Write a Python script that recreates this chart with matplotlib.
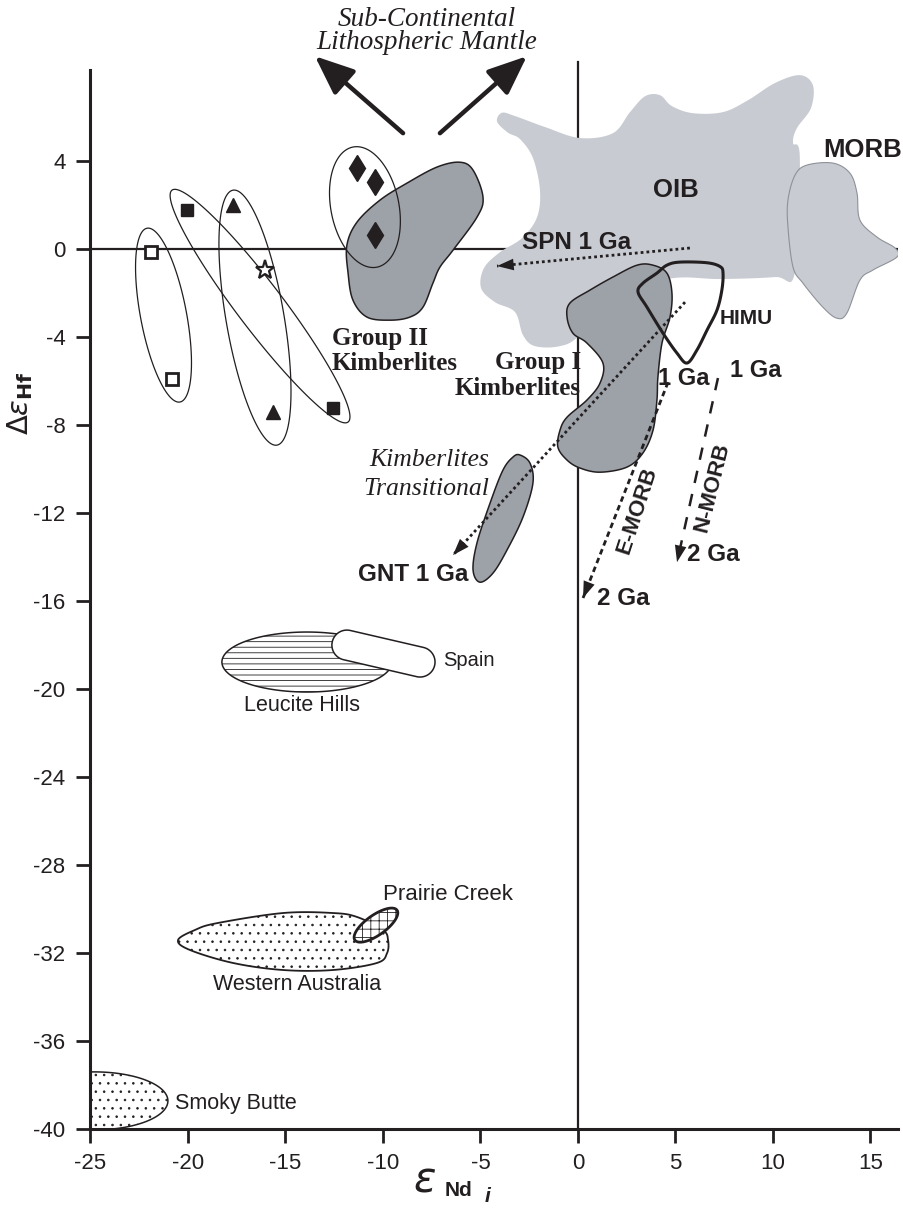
import numpy as np
import matplotlib
matplotlib.use('Agg')
import matplotlib.pyplot as plt
from matplotlib.patches import Polygon

plt.rcParams['font.family'] = ['Liberation Sans', 'DejaVu Sans']
plt.rcParams['hatch.linewidth'] = 0.6
plt.rcParams['mathtext.fontset'] = 'dejavusans'
plt.rcParams['axes.unicode_minus'] = False

INK = '#231f20'
LIGHT = '#c8ccd2'
DARK = '#9da1a8'
SERIF = 'Liberation Serif'

# ---- field outlines (eNd_i, delta eHf) ----
oib_x = [-3.23, -3.9, -4.15, -3.6, -2.97, -2.31, -1.95, -2.10, -2.87, -4.0, -4.82, -4.97, -4.26,
         -3.23, -2.82, -2.21, -0.92, 0.1, 2.15, 4.87, 7.28, 10.1, 11.13, 11.38, 11.03, 11.23,
         11.95, 12.05, 11.38, 10.1, 8.72, 7.44, 5.9, 4.82, 4.2, 3.44, 2.67, 1.79, 0.1, -1.69]
oib_y = [6.05, 6.2, 5.8, 5.3, 5.0, 4.14, 2.68, 1.45, 0.5, -0.14, -0.86, -1.77, -2.41,
         -2.86, -3.91, -4.41, -4.41, -3.91, -1.95, -1.32, -1.36, -1.27, -1.05, 4.14, 4.82, 5.5,
         6.41, 7.45, 7.91, 7.55, 6.77, 6.23, 6.18, 6.5, 7.0, 6.95, 6.23, 5.27, 5.05, 5.55]

morb_x = [11.74, 13.08, 13.95, 14.31, 14.46, 15.33, 16.26, 16.36, 15.13, 14.46, 13.79, 13.28,
          12.56, 11.54, 11.03, 10.77, 10.77, 11.13]
morb_y = [3.82, 3.91, 3.45, 2.55, 1.32, 0.55, 0.05, -0.36, -0.95, -1.41, -2.91, -3.14,
          -2.64, -1.55, -0.82, 1.0, 2.23, 3.36]

g2_x = [-11.85, -11.33, -10.15, -8.77, -7.23, -6.05, -5.38, -4.87, -5.18, -6.41, -7.08, -7.44,
        -7.95, -8.62, -9.64, -10.82, -11.54, -11.79]
g2_y = [0.18, 1.23, 2.23, 3.0, 3.73, 3.95, 3.59, 2.36, 1.45, -0.05, -0.82, -1.55,
        -2.64, -3.09, -3.23, -3.09, -2.32, -1.09]

g1_x = [3.85, 4.56, 4.82, 4.72, 4.31, 4.10, 4.05, 3.85, 3.33, 2.51, 1.13, 0.1, -0.56, -1.03,
        -0.92, -0.56, 0.46, 1.13, 1.28, 0.46, -0.26, -0.56, -0.41, 0.62, 1.79, 3.03]
g1_y = [-0.73, -1.09, -2.0, -3.09, -4.27, -5.82, -6.86, -8.23, -9.27, -9.91, -10.14, -9.95,
        -9.59, -9.0, -8.23, -7.64, -6.86, -6.09, -5.18, -4.27, -3.82, -3.09, -2.45, -1.86,
        -1.27, -0.73]

tr_x = [-2.97, -2.46, -2.31, -2.82, -3.64, -4.36, -5.03, -5.38, -5.18, -4.51, -3.85, -3.33]
tr_y = [-9.36, -9.73, -10.64, -12.18, -13.68, -14.73, -15.14, -14.59, -13.36, -11.55, -10.05, -9.45]

himu_x = [3.08, 3.33, 4.05, 4.56, 5.23, 6.62, 7.3, 7.44, 7.38, 7.13, 6.62, 6.10, 5.59, 5.08, 4.36, 3.54]
himu_y = [-1.95, -1.55, -1.09, -0.73, -0.59, -0.62, -0.8, -1.1, -1.86, -2.77, -3.68, -4.59, -5.18,
          -4.73, -3.82, -2.64]

wa_x = [-20.51, -19.64, -18.51, -15.13, -12.56, -11.33, -10.0, -9.74, -9.79, -10.31, -12.56,
        -15.13, -17.69, -19.9]
wa_y = [-31.41, -30.95, -30.64, -30.18, -30.18, -30.36, -30.95, -31.41, -32.0, -32.45, -32.77,
        -32.77, -32.45, -31.86]

# ellipse fields: two tips of the long axis
ell_open_sq = [(-22.1, 0.95), (-20.41, -6.95)]
ell_fill_sq = [(-20.82, 2.68), (-11.79, -7.86)]
ell_tri = [(-17.69, 2.68), (-15.44, -8.91)]
ell_dia = [(-11.54, 4.64), (-10.31, -0.82)]
leucite = [(-18.26, -18.77), (-9.54, -18.77)]
prairie = [(-11.44, -31.41), (-9.28, -30.05)]
smoky = [(-28.57, -38.72), (-21.03, -38.72)]
spain = [(-11.85, -18.0), (-8.1, -18.77)]

# samples
open_sq_x = [-21.9, -20.82]
open_sq_y = [-0.14, -5.91]
fill_sq_x = [-20.05, -12.56]
fill_sq_y = [1.77, -7.23]
tri_x = [-17.69, -15.64]
tri_y = [2.0, -7.41]
star_x = [-16.05]
star_y = [-0.95]
dia_x = [-11.33, -10.41, -10.41]
dia_y = [3.68, 3.05, 0.64]

# evolution vectors (start, end)
slm_left = [(-8.97, 5.27), (-13.49, 8.77)]
slm_right = [(-7.08, 5.27), (-2.62, 8.77)]
spn = [(5.74, 0.05), (-4.15, -0.77)]
gnt = [(5.49, -2.41), (-6.41, -13.91)]
emorb = [(4.62, -6.05), (0.26, -15.86)]
nmorb = [(7.18, -5.86), (5.08, -14.23)]

xticks = [-25, -20, -15, -10, -5, 0, 5, 10, 15]
yticks = list(range(4, -41, -4))

fig = plt.figure(figsize=(9.04, 12.10), dpi=100)
ax = fig.add_axes([0.1001, 0.0669, 0.8932, 0.8752])
ax.set_xlim(-25, 16.41)
ax.set_ylim(-40, 8.14)
sx = 0.8932 * 904 / 41.41   # px per unit
sy = 0.8752 * 1210 / 48.14


def smooth(x, y, k=12):
    p = np.column_stack([x, y])
    n = len(p)
    out = []
    t = np.linspace(0, 1, k, endpoint=False)[:, None]
    for i in range(n):
        p0, p1, p2, p3 = p[i - 1], p[i], p[(i + 1) % n], p[(i + 2) % n]
        out.append(0.5 * (2 * p1 + (-p0 + p2) * t + (2 * p0 - 5 * p1 + 4 * p2 - p3) * t ** 2
                          + (-p0 + 3 * p1 - 3 * p2 + p3) * t ** 3))
    return np.vstack(out)


def ellipse(tips, hw, n=240):
    a = np.array([tips[0][0] * sx, tips[0][1] * sy])
    b = np.array([tips[1][0] * sx, tips[1][1] * sy])
    c = (a + b) / 2
    u = (b - a) / 2
    v = np.array([-u[1], u[0]]) / np.hypot(*u) * hw
    t = np.linspace(0, 2 * np.pi, n)[:, None]
    p = c + np.cos(t) * u + np.sin(t) * v
    return np.column_stack([p[:, 0] / sx, p[:, 1] / sy])


def capsule(ends, r, n=60):
    a = np.array([ends[0][0] * sx, ends[0][1] * sy])
    b = np.array([ends[1][0] * sx, ends[1][1] * sy])
    ang = np.arctan2(*(b - a)[::-1])
    t1 = np.linspace(ang - np.pi / 2, ang + np.pi / 2, n)
    t2 = t1 + np.pi
    p = np.vstack([b + r * np.column_stack([np.cos(t1), np.sin(t1)]),
                   a + r * np.column_stack([np.cos(t2), np.sin(t2)])])
    return np.column_stack([p[:, 0] / sx, p[:, 1] / sy])


def field(pts, z, **kw):
    ax.add_patch(Polygon(pts, closed=True, zorder=z, **kw))


# reference lines
ax.axhline(0, color=INK, lw=1.6, zorder=1)
ax.plot([0, 0], [-40, 8.5], color=INK, lw=1.6, zorder=1, clip_on=False)

field(smooth(oib_x, oib_y), 2, facecolor=LIGHT, edgecolor='none')
field(smooth(morb_x, morb_y), 3, facecolor=LIGHT, edgecolor='#8e9298', lw=0.8)
field(smooth(g2_x, g2_y), 4, facecolor=DARK, edgecolor=INK, lw=1.1)
field(smooth(g1_x, g1_y), 4, facecolor=DARK, edgecolor=INK, lw=1.1)
field(smooth(tr_x, tr_y), 4, facecolor=DARK, edgecolor=INK, lw=1.1)
field(smooth(himu_x, himu_y, k=8), 5, facecolor='none', edgecolor=INK, lw=2.2)

for tips, hw in [(ell_open_sq, 23), (ell_fill_sq, 23), (ell_tri, 29), (ell_dia, 34)]:
    field(ellipse(tips, hw), 5, facecolor='none', edgecolor=INK, lw=0.9)

field(ellipse(leucite, 30), 3, facecolor='white', edgecolor=INK, lw=1.1, hatch='---')
field(capsule(spain, 15), 4, facecolor='white', edgecolor=INK, lw=1.1)
field(smooth(wa_x, wa_y), 3, facecolor='white', edgecolor=INK, lw=1.3, hatch='..')
field(ellipse(prairie, 10), 4, facecolor='white', edgecolor=INK, lw=2.0, hatch='++')
field(ellipse(smoky, 29), 2, facecolor='white', edgecolor=INK, lw=1.1, hatch='..')

# markers
ax.plot(open_sq_x, open_sq_y, 's', ms=9, mfc='white', mec=INK, mew=2, zorder=7)
ax.plot(fill_sq_x, fill_sq_y, 's', ms=9, color=INK, zorder=7)
ax.plot(tri_x, tri_y, '^', ms=10, color=INK, zorder=7)
ax.plot(star_x, star_y, '*', ms=14, mfc='white', mec=INK, mew=1.6, zorder=7)
ax.plot(dia_x, dia_y, 'd', ms=13, color=INK, zorder=7)


def vector(seg, ls, lw, hl, hw, ms):
    (x0, y0), (x1, y1) = seg
    ax.plot([x0, x1], [y0, y1], ls=ls, lw=lw, color=INK, zorder=6, clip_on=False)
    ax.annotate('', xy=(x1, y1), xytext=(x0, y0), annotation_clip=False,
                arrowprops=dict(arrowstyle=f'-|>,head_length={hl},head_width={hw}',
                                lw=0, color=INK, mutation_scale=ms,
                                shrinkA=0, shrinkB=0), zorder=6)


for seg in [slm_left, slm_right]:
    (x0, y0), (x1, y1) = seg
    ax.annotate('', xy=(x1, y1), xytext=(x0, y0), annotation_clip=False,
                arrowprops=dict(arrowstyle='-|>,head_length=1.2,head_width=0.5',
                                lw=3.2, color=INK, mutation_scale=20,
                                shrinkA=0, shrinkB=0), zorder=6)

vector(spn, (0, (1, 1.1)), 2.0, 1.0, 0.35, 12)
vector(gnt, (0, (1, 1.1)), 2.0, 1.0, 0.35, 12)
vector(emorb, (0, (2.0, 1.4)), 2.0, 1.0, 0.35, 12)
vector(nmorb, (0, (5, 4.5)), 1.8, 1.0, 0.35, 12)

# labels
kw = dict(color=INK, zorder=8, clip_on=False)
ax.text(-7.74, 9.92, 'Sub-Continental\nLithospheric Mantle', family=SERIF, style='italic',
        fontsize=19.5, ha='center', va='center', linespacing=0.92, **kw)
ax.text(-12.62, -4.05, 'Group II', family=SERIF, weight='bold', fontsize=18, va='center', **kw)
ax.text(-12.62, -5.2, 'Kimberlites', family=SERIF, weight='bold', fontsize=18, va='center', **kw)
ax.text(0.15, -5.15, 'Group I', family=SERIF, weight='bold', fontsize=18, va='center', ha='right', **kw)
ax.text(0.15, -6.35, 'Kimberlites', family=SERIF, weight='bold', fontsize=18, va='center', ha='right', **kw)
ax.text(-4.56, -9.6, 'Kimberlites', family=SERIF, style='italic', fontsize=18.5, va='center', ha='right', **kw)
ax.text(-4.56, -10.9, 'Transitional', family=SERIF, style='italic', fontsize=18.5, va='center', ha='right', **kw)

ax.text(5.03, 2.68, 'OIB', weight='bold', fontsize=18.5, ha='center', va='center', **kw)
ax.text(12.56, 4.5, 'MORB', weight='bold', fontsize=18.5, va='center', **kw)
ax.text(-2.87, 0.3, 'SPN 1 Ga', weight='bold', fontsize=17.5, va='center', **kw)
ax.text(7.28, -3.14, 'HIMU', weight='bold', fontsize=15, va='center', **kw)
ax.text(4.1, -5.86, '1 Ga', weight='bold', fontsize=17, va='center', **kw)
ax.text(7.8, -5.5, '1 Ga', weight='bold', fontsize=17, va='center', **kw)
ax.text(1.0, -15.86, '2 Ga', weight='bold', fontsize=17.5, va='center', **kw)
ax.text(5.6, -13.9, '2 Ga', weight='bold', fontsize=17.5, va='center', **kw)
ax.text(-5.64, -14.77, 'GNT 1 Ga', weight='bold', fontsize=17.5, va='center', ha='right', **kw)
ax.text(3.03, -11.86, 'E-MORB', weight='bold', fontsize=16, rotation=72,
        ha='center', va='center', **kw)
ax.text(6.87, -10.82, 'N-MORB', weight='bold', fontsize=16, rotation=76,
        ha='center', va='center', **kw)

ax.text(-6.92, -18.68, 'Spain', fontsize=14.5, va='center', **kw)
ax.text(-14.15, -20.73, 'Leucite Hills', fontsize=15.5, ha='center', va='center', **kw)
ax.text(-10.0, -29.36, 'Prairie Creek', fontsize=16, va='center', **kw)
ax.text(-18.72, -33.45, 'Western Australia', fontsize=15.5, va='center', **kw)
ax.text(-20.67, -38.86, 'Smoky Butte', fontsize=15.5, va='center', **kw)

# axis titles
ax.text(-28.6, -7.0, r'$\Delta\varepsilon_{\mathbf{Hf}}$', fontsize=21, rotation=90,
        ha='center', va='center', **kw)
ax.text(-7.85, -42.85, r'$\varepsilon$', fontsize=30, ha='center', va='baseline', **kw)
ax.text(-6.85, -43.05, 'Nd', weight='bold', fontsize=15, va='baseline', **kw)
ax.text(-4.8, -43.3, 'i', weight='bold', style='italic', fontsize=15, va='baseline', **kw)

# axes frame
for s in ['top', 'right']:
    ax.spines[s].set_visible(False)
for s in ['left', 'bottom']:
    ax.spines[s].set_linewidth(2.2)
    ax.spines[s].set_color(INK)
    ax.spines[s].set_zorder(2.5)
ax.set_xticks(xticks)
ax.set_yticks(yticks)
ax.tick_params(direction='out', length=10, width=2, color=INK, labelsize=16,
               labelcolor=INK)
ax.tick_params(axis='x', pad=7)
ax.tick_params(axis='y', pad=8)

fig.savefig('out.png', dpi=100)
